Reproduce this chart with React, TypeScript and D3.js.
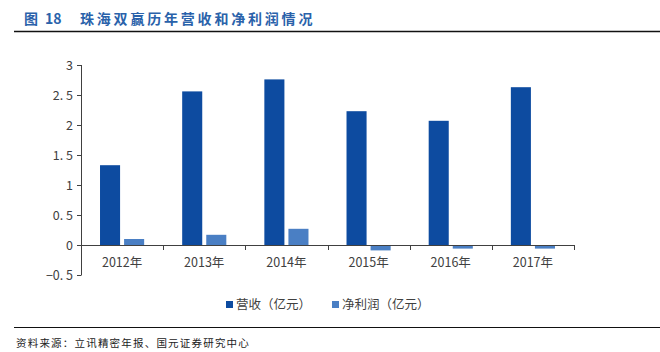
import React from 'react';
import * as d3 from 'd3';

const years = ['2012年', '2013年', '2014年', '2015年', '2016年', '2017年'];
const revenue = [1.33, 2.56, 2.76, 2.23, 2.07, 2.63];
const netProfit = [0.1, 0.17, 0.27, -0.09, -0.06, -0.06];
const seriesNames = ['营收（亿元）', '净利润（亿元）'];
const yTicks = [-0.5, 0, 0.5, 1, 1.5, 2, 2.5, 3];

const colors = ['#0D4BA0', '#4A7FC4'];
const axisColor = '#404040';
const font = '"Noto Sans CJK SC", "Liberation Sans", sans-serif';

export default function App() {
  const width = 660;
  const height = 352;

  const x = d3.scaleBand().domain(years).range([81, 574]).padding(0);
  const inner = d3.scaleBand().domain(seriesNames).range([0, x.bandwidth()])
    .paddingInner(1 / 6).paddingOuter(0.79);
  const y = d3.scaleLinear().domain([-0.5, 3]).range([275, 65]);

  const series = [revenue, netProfit];
  const boundaries = years.map((d) => (x(d) as number) + x.bandwidth());

  return (
    <svg width={width} height={height} style={{ position: 'absolute', left: 0, top: 0, background: '#fff' }}>
      <rect width={width} height={height} fill="#fff" />
      <text y={24} fontFamily={font} fontSize={14} fontWeight="bold" fill="#2A62AA">
        <tspan x={24}>图</tspan>
        <tspan x={45}>18</tspan>
        <tspan x={80} letterSpacing={2.8}>珠海双赢历年营收和净利润情况</tspan>
      </text>
      <line x1={14} x2={660} y1={31.5} y2={31.5} stroke="#111" strokeWidth={1.5} />

      {/* y axis */}
      <line x1={81.5} x2={81.5} y1={y(3)} y2={y(-0.5)} stroke={axisColor} />
      {yTicks.map((t) => (
        <g key={t}>
          <line x1={77} x2={81.5} y1={Math.round(y(t)) + 0.5} y2={Math.round(y(t)) + 0.5} stroke={axisColor} />
          <text x={73} y={y(t) + 4.5} textAnchor="end" fontFamily={font} fontSize={12.5} fill={axisColor}>
            {d3.format('.1~f')(t).replace('-', '−').replace('.', '. ')}
          </text>
        </g>
      ))}

      {/* bars */}
      {series.map((vals, si) =>
        vals.map((v, i) => (
          <rect
            key={`${si}-${i}`}
            x={(x(years[i]) as number) + (inner(seriesNames[si]) as number)}
            y={y(Math.max(0, v))}
            width={inner.bandwidth()}
            height={Math.abs(y(v) - y(0))}
            fill={colors[si]}
          />
        ))
      )}

      {/* x axis */}
      <line x1={81} x2={574.5} y1={Math.round(y(0)) + 0.5} y2={Math.round(y(0)) + 0.5} stroke={axisColor} />
      {boundaries.map((b, i) => (
        <line key={i} x1={Math.round(b) + 0.5} x2={Math.round(b) + 0.5} y1={y(0)} y2={y(0) + 5} stroke={axisColor} />
      ))}
      {years.map((d) => (
        <text key={d} x={(x(d) as number) + x.bandwidth() / 2} y={267} textAnchor="middle"
          fontFamily={font} fontSize={12.5} fill={axisColor}>
          {d}
        </text>
      ))}

      {/* legend */}
      {seriesNames.map((s, i) => {
        const lx = i === 0 ? 226 : 332;
        return (
          <g key={s}>
            <rect x={lx} y={301} width={7} height={7} fill={colors[i]} />
            <text x={lx + 10} y={309} fontFamily={font} fontSize={12.5} fill={axisColor}>{s}</text>
          </g>
        );
      })}

      <line x1={14} x2={660} y1={327.5} y2={327.5} stroke="#111" strokeWidth={1.2} />
      <text x={16} y={347} fontFamily={font} fontSize={10.5} letterSpacing={1.2} fill="#222">资料来源：立讯精密年报、国元证券研究中心</text>
    </svg>
  );
}
